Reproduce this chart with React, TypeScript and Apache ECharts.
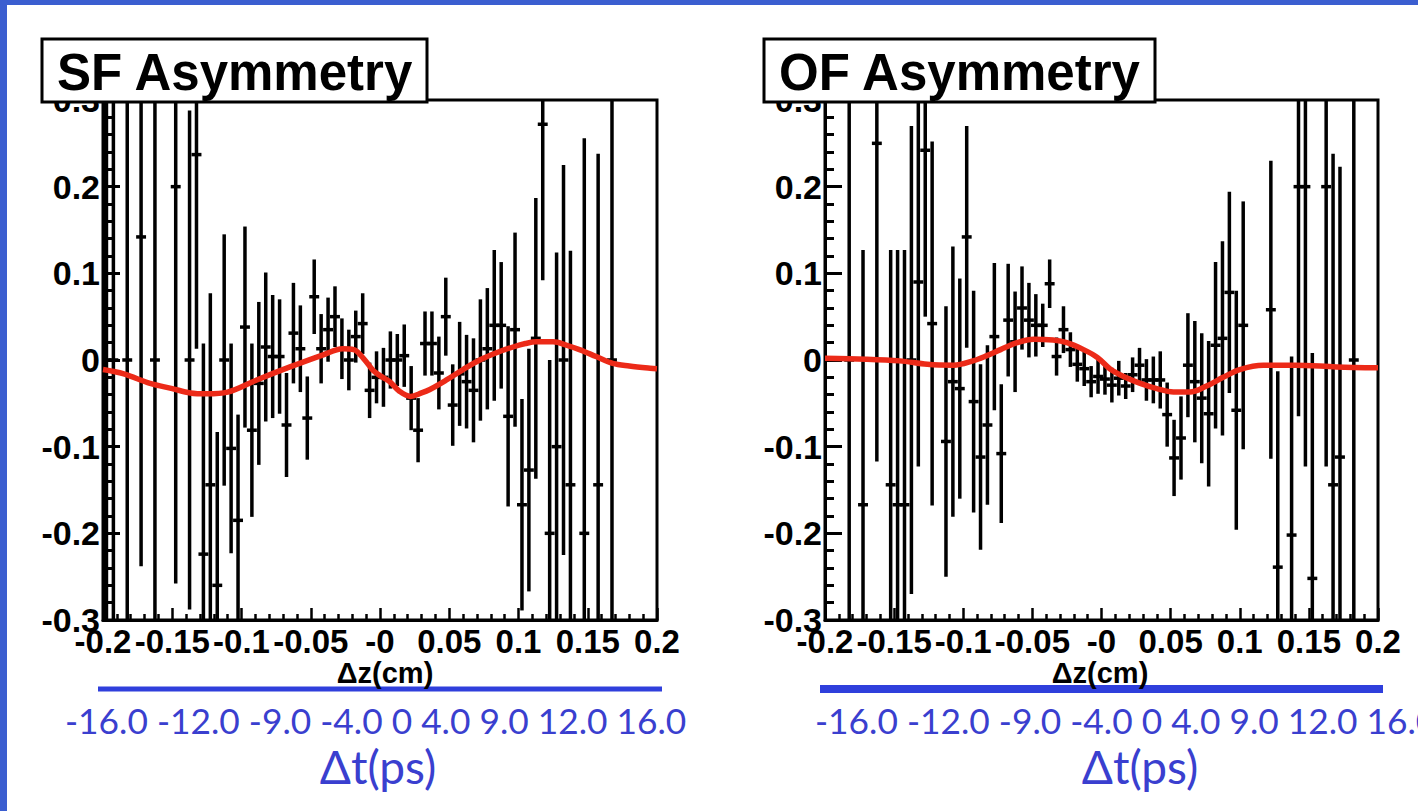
import React, { useEffect, useRef } from "react";
import * as echarts from "echarts";

// ---------- axis definitions ----------
const X_MIN = -0.2;
const X_MAX = 0.2;
const X_STEP = 0.05;
const Y_MIN = -0.3;
const Y_MAX = 0.3;
const Y_STEP = 0.1;
const BIN_HALF = 0.0025;

const xTickLabels = ["-0.2", "-0.15", "-0.1", "-0.05", "-0", "0.05", "0.1", "0.15", "0.2"];
const yTickLabels = ["-0.3", "-0.2", "-0.1", "0", "0.1", "0.2", "0.3"];
const dtTickLabels = ["-16.0", "-12.0", "-9.0", "-4.0", "0", "4.0", "9.0", "12.0", "16.0"];
const panelTitles = ["SF Asymmetry", "OF Asymmetry"];
const xAxisTitle = "\u0394z(cm)";
const dtAxisTitle = "\u0394t(ps)";

// ---------- SF asymmetry: bin centres (cm), values, errors ----------
const sfX = [
  -0.1975, -0.1925, -0.1825, -0.1725, -0.1625, -0.1475, -0.1375, -0.1325, -0.1275, -0.1225,
  -0.1175, -0.1125, -0.1075, -0.1025, -0.0975, -0.0925, -0.0875, -0.0825, -0.0775, -0.0725,
  -0.0675, -0.0625, -0.0575, -0.0525, -0.0475, -0.0425, -0.0375, -0.0325, -0.0275, -0.0225,
  -0.0175, -0.0125, -0.0075, -0.0025, 0.0025, 0.0075, 0.0125, 0.0175, 0.0225, 0.0275,
  0.0325, 0.0375, 0.0425, 0.0475, 0.0525, 0.0575, 0.0625, 0.0675, 0.0725, 0.0775,
  0.0825, 0.0875, 0.0925, 0.0975, 0.1025, 0.1075, 0.1125, 0.1175, 0.1225, 0.1275,
  0.1325, 0.1375, 0.1475, 0.1575, 0.1675,
];
const sfVal = [
  0.0, 0.0, 0.0, 0.142, 0.0, 0.2, 0.0, 0.237, -0.224, -0.144,
  -0.26, 0.0, -0.102, -0.185, 0.038, -0.081, -0.027, 0.015, 0.004, 0.004,
  -0.075, 0.031, 0.013, -0.067, 0.073, 0.013, 0.035, 0.05, 0.013, 0.0,
  0.027, 0.042, -0.035, -0.02, -0.02, 0.0, 0.0, 0.005, -0.044, -0.081,
  0.019, 0.019, -0.015, 0.05, -0.052, -0.016, -0.025, -0.035, 0.0, 0.013,
  0.04, 0.04, -0.065, 0.035, -0.167, -0.127, 0.025, 0.272, -0.2, -0.1,
  0.0, -0.144, -0.2, -0.144, 0.0,
];
const sfErr = [
  0.5, 0.5, 0.4, 0.38, 0.36, 0.458, 0.288, 0.224, 0.243, 0.221,
  0.177, 0.145, 0.121, 0.122, 0.116, 0.1, 0.094, 0.086, 0.071, 0.066,
  0.06, 0.058, 0.05, 0.048, 0.043, 0.04, 0.037, 0.035, 0.035, 0.035,
  0.03, 0.035, 0.032, 0.03, 0.034, 0.033, 0.03, 0.036, 0.037, 0.037,
  0.037, 0.037, 0.042, 0.045, 0.047, 0.06, 0.054, 0.06, 0.07, 0.07,
  0.087, 0.073, 0.104, 0.112, 0.122, 0.14, 0.162, 0.18, 0.2, 0.224,
  0.225, 0.27, 0.456, 0.382, 0.5,
];

// ---------- OF asymmetry ----------
const ofX = [
  -0.1825, -0.1725, -0.1625, -0.1525, -0.1475, -0.1425, -0.1375, -0.1325, -0.1275, -0.1225,
  -0.1125, -0.1075, -0.1025, -0.0975, -0.0925, -0.0875, -0.0825, -0.0775, -0.0725, -0.0675,
  -0.0625, -0.0575, -0.0525, -0.0475, -0.0425, -0.0375, -0.0325, -0.0275, -0.0225, -0.0175,
  -0.0125, -0.0075, -0.0025, 0.0025, 0.0075, 0.0125, 0.0175, 0.0225, 0.0275, 0.0325,
  0.0375, 0.0425, 0.0475, 0.0525, 0.0575, 0.0625, 0.0675, 0.0725, 0.0775, 0.0825,
  0.0875, 0.0925, 0.0975, 0.1025, 0.1225, 0.1275, 0.1375, 0.1425, 0.1475, 0.1525,
  0.1625, 0.1675, 0.1725, 0.1825,
];
const ofVal = [
  0.0, -0.167, 0.25, -0.144, -0.167, -0.167, 0.0, 0.09, 0.242, 0.042,
  -0.094, -0.025, -0.033, 0.142, -0.048, -0.112, -0.075, 0.027, -0.108, 0.046,
  0.021, 0.06, 0.046, 0.04, 0.04, 0.088, 0.004, 0.035, 0.012, -0.005,
  -0.01, -0.025, -0.019, -0.022, -0.029, -0.021, -0.03, -0.017, -0.006, -0.023,
  -0.023, -0.023, -0.063, -0.113, -0.09, -0.006, -0.025, -0.044, -0.062, 0.017,
  0.025, 0.078, -0.058, 0.04, 0.058, -0.239, -0.202, 0.2, 0.2, -0.252,
  0.2, -0.144, -0.112, 0.0,
];
const ofErr = [
  0.5, 0.294, 0.367, 0.271, 0.294, 0.294, 0.27, 0.213, 0.192, 0.21,
  0.156, 0.156, 0.127, 0.128, 0.128, 0.107, 0.092, 0.085, 0.08, 0.065,
  0.058, 0.048, 0.043, 0.036, 0.025, 0.028, 0.022, 0.027, 0.02, 0.02,
  0.02, 0.018, 0.02, 0.018, 0.02, 0.02, 0.015, 0.02, 0.02, 0.024,
  0.027, 0.033, 0.037, 0.044, 0.048, 0.06, 0.07, 0.075, 0.084, 0.096,
  0.112, 0.116, 0.138, 0.143, 0.172, 0.226, 0.206, 0.265, 0.323, 0.26,
  0.323, 0.382, 0.335, 0.5,
];

// ---------- fit curves ----------
const sfFitX = [
  -0.2, -0.185, -0.166, -0.15, -0.137, -0.125, -0.11, -0.089, -0.065, -0.041, -0.027, -0.019,
  -0.012, -0.005, 0.0, 0.007, 0.014, 0.022, 0.03, 0.036, 0.048, 0.06, 0.072, 0.085, 0.096,
  0.105, 0.113, 0.125, 0.135, 0.144, 0.156, 0.168, 0.18, 0.195, 0.2,
];
const sfFitY = [
  -0.011, -0.016, -0.027, -0.033, -0.038, -0.039, -0.037, -0.023, -0.008, 0.006, 0.013, 0.012,
  0.002, -0.012, -0.018, -0.025, -0.036, -0.042, -0.038, -0.034, -0.023, -0.011, 0.0, 0.009, 0.015,
  0.019, 0.021, 0.021, 0.017, 0.012, 0.004, -0.004, -0.007, -0.0095, -0.01,
];
const ofFitX = [
  -0.2, -0.17, -0.146, -0.126, -0.107, -0.093, -0.083, -0.073, -0.061, -0.049, -0.035, -0.025,
  -0.013, -0.003, 0.006, 0.016, 0.028, 0.04, 0.052, 0.064, 0.076, 0.088, 0.1, 0.117, 0.14,
  0.17, 0.2,
];
const ofFitY = [
  0.002, 0.001, -0.001, -0.005, -0.006, -0.001, 0.005, 0.012, 0.02, 0.024, 0.023, 0.02,
  0.012, 0.003, -0.01, -0.019, -0.027, -0.033, -0.037, -0.037, -0.03, -0.02, -0.011, -0.006, -0.006,
  -0.008, -0.009,
];

// ---------- styling ----------
const SLIDE_BLUE = "#3b5ed0";
const AXIS_BLUE = "#2f3fdc";
const LABEL_BLUE = "#3a3fcf";
const FIT_RED = "#ec2a18";
const SANS = "'Liberation Sans', Arial, sans-serif";
const HUMANIST = "Lato, 'Open Sans', sans-serif";

const GRIDS = [
  { left: 103, top: 100, width: 554, height: 520 },
  { left: 825, top: 100, width: 553, height: 520 },
];

function errorBarItem(_params: any, api: any) {
  const x = api.value(0);
  const v = api.value(1);
  const e = api.value(2);
  const lo = Math.max(v - e, Y_MIN);
  const hi = Math.min(v + e, Y_MAX);
  const pLo = api.coord([x, lo]);
  const pHi = api.coord([x, hi]);
  const children: any[] = [
    {
      type: "line",
      shape: { x1: pLo[0], y1: pLo[1], x2: pHi[0], y2: pHi[1] },
      style: { stroke: "#000", lineWidth: 3.5 },
    },
  ];
  if (v >= Y_MIN && v <= Y_MAX) {
    const a = api.coord([x - BIN_HALF, v]);
    const b = api.coord([x + BIN_HALF, v]);
    children.push({
      type: "line",
      shape: { x1: a[0] - 1.5, y1: a[1], x2: b[0] + 1.5, y2: b[1] },
      style: { stroke: "#000", lineWidth: 3.5 },
    });
  }
  return { type: "group", children };
}

function makeXAxis(gridIndex: number) {
  return {
    type: "value",
    gridIndex,
    min: X_MIN,
    max: X_MAX,
    interval: X_STEP,
    axisLine: { show: true, onZero: false, lineStyle: { color: "#000", width: 3 } },
    axisTick: { show: true, inside: true, length: 12, lineStyle: { color: "#000", width: 2.5 } },
    minorTick: { show: true, splitNumber: 5, length: 6, lineStyle: { color: "#000", width: 2.5 } },
    splitLine: { show: false },
    axisLabel: {
      show: true,
      margin: 5,
      color: "#000",
      fontFamily: SANS,
      fontWeight: "bold",
      fontSize: 33,
      showMinLabel: true,
      showMaxLabel: true,
      formatter: (v: number) => xTickLabels[Math.round((v - X_MIN) / X_STEP)],
    },
  };
}

function makeYAxis(gridIndex: number) {
  return {
    type: "value",
    gridIndex,
    min: Y_MIN,
    max: Y_MAX,
    interval: Y_STEP,
    axisLine: { show: true, onZero: false, lineStyle: { color: "#000", width: 3 } },
    axisTick: { show: true, inside: true, length: 17, lineStyle: { color: "#000", width: 3 } },
    minorTick: { show: true, splitNumber: 5, length: 9, lineStyle: { color: "#000", width: 3 } },
    splitLine: { show: false },
    axisLabel: {
      show: true,
      margin: 3,
      color: "#000",
      fontFamily: SANS,
      fontWeight: "bold",
      fontSize: 34,
      showMinLabel: true,
      showMaxLabel: true,
      formatter: (v: number) => yTickLabels[Math.round((v - Y_MIN) / Y_STEP)],
    },
  };
}

function panelGraphics(gi: number, boxW: number, lineW: number, dtLeft: number, dtCenter: number, dzCenter: number) {
  const g = GRIDS[gi];
  return [
    {
      type: "rect",
      z: 100,
      shape: { x: g.left - 61, y: 39, width: boxW, height: 63 },
      style: { fill: "#fff", stroke: "#000", lineWidth: 3 },
    },
    {
      type: "text",
      z: 101,
      x: g.left - 46,
      y: 72,
      style: {
        text: panelTitles[gi],
        fill: "#000",
        fontFamily: SANS,
        fontWeight: "bold",
        fontSize: 51,
        textAlign: "left",
        textVerticalAlign: "middle",
      },
    },
    {
      type: "text",
      z: 101,
      x: dzCenter,
      y: 673,
      style: {
        text: xAxisTitle,
        fill: "#000",
        fontFamily: SANS,
        fontWeight: "bold",
        fontSize: 29,
        textAlign: "center",
        textVerticalAlign: "middle",
      },
    },
    {
      type: "rect",
      z: 100,
      shape: { x: g.left - 5, y: 689 - lineW / 2, width: g.width + 10, height: lineW },
      style: { fill: AXIS_BLUE },
    },
    {
      type: "text",
      z: 101,
      x: dtLeft,
      y: 720,
      style: {
        text: dtTickLabels.join(" "),
        fill: LABEL_BLUE,
        fontFamily: HUMANIST,
        fontSize: 35.3,
        textAlign: "left",
        textVerticalAlign: "middle",
      },
    },
    {
      type: "text",
      z: 101,
      x: dtCenter,
      y: 766,
      style: {
        text: dtAxisTitle,
        fill: LABEL_BLUE,
        fontFamily: HUMANIST,
        fontSize: 46,
        textAlign: "center",
        textVerticalAlign: "middle",
      },
    },
  ];
}

export default function App() {
  const ref = useRef<HTMLDivElement>(null);

  useEffect(() => {
    if (!ref.current) return;
    const chart = echarts.init(ref.current, undefined, { renderer: "svg" });

    const option: any = {
      animation: false,
      backgroundColor: "transparent",
      grid: GRIDS.map((g) => ({
        ...g,
        show: true,
        borderColor: "#000",
        borderWidth: 3,
        backgroundColor: "transparent",
        containLabel: false,
      })),
      xAxis: [makeXAxis(0), makeXAxis(1)],
      yAxis: [makeYAxis(0), makeYAxis(1)],
      series: [
        {
          name: "SF data",
          type: "custom",
          xAxisIndex: 0,
          yAxisIndex: 0,
          clip: true,
          renderItem: errorBarItem,
          encode: { x: 0, y: 1 },
          data: sfX.map((x, i) => [x, sfVal[i], sfErr[i]]),
          z: 3,
        },
        {
          name: "OF data",
          type: "custom",
          xAxisIndex: 1,
          yAxisIndex: 1,
          clip: true,
          renderItem: errorBarItem,
          encode: { x: 0, y: 1 },
          data: ofX.map((x, i) => [x, ofVal[i], ofErr[i]]),
          z: 3,
        },
        {
          name: "SF fit",
          type: "line",
          xAxisIndex: 0,
          yAxisIndex: 0,
          smooth: 0.35,
          showSymbol: false,
          clip: true,
          lineStyle: { color: FIT_RED, width: 5.5 },
          data: sfFitX.map((x, i) => [x, sfFitY[i]]),
          z: 5,
        },
        {
          name: "OF fit",
          type: "line",
          xAxisIndex: 1,
          yAxisIndex: 1,
          smooth: 0.35,
          showSymbol: false,
          clip: true,
          lineStyle: { color: FIT_RED, width: 5.5 },
          data: ofFitX.map((x, i) => [x, ofFitY[i]]),
          z: 5,
        },
      ],
      graphic: [
        ...panelGraphics(0, 385, 5, 65, 378, 385),
        ...panelGraphics(1, 391, 8, 815, 1140, 1100),
      ],
    };

    chart.setOption(option);
    return () => chart.dispose();
  }, []);

  return (
    <div
      style={{
        position: "absolute",
        left: 0,
        top: 0,
        width: 1418,
        height: 811,
        background: SLIDE_BLUE,
        overflow: "hidden",
      }}
    >
      <div
        style={{
          position: "absolute",
          left: 7,
          top: 5,
          width: 1411,
          height: 806,
          background: "#fff",
        }}
      />
      <div ref={ref} style={{ position: "absolute", left: 0, top: 0, width: 1418, height: 811 }} />
    </div>
  );
}
